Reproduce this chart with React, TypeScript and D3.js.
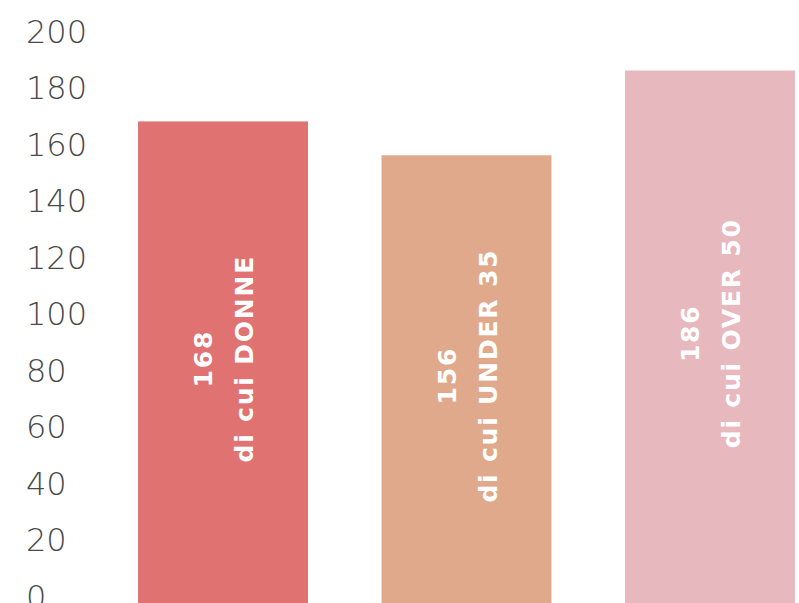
import React from "react";
import * as d3 from "d3";

const categories = ["DONNE", "UNDER 35", "OVER 50"];
const values = [168, 156, 186];
const colors = ["#E07272", "#E0A98B", "#E8B8BF"];
const tickValues = [0, 20, 40, 60, 80, 100, 120, 140, 160, 180, 200];

const W = 799;
const H = 603;

export default function App() {
  const x = d3.scaleBand<string>().domain(categories).range([65, 868]).paddingInner(0.302).paddingOuter(0.3);
  const y = d3.scaleLinear().domain([0, 200]).range([596, 31]);
  const bw = x.bandwidth();

  return (
    <svg width={W} height={H} style={{ position: "absolute", left: 0, top: 0, background: "#fff" }}>
      <g>
        {tickValues.map((t) => (
          <text
            key={t}
            x={26}
            y={y(t)}
            dy="0.36em"
            fontFamily="'DejaVu Sans', sans-serif"
            fontWeight={200}
            fontSize={32}
            fill="#4a4a4a"
          >
            {t}
          </text>
        ))}
      </g>
      {categories.map((c, i) => {
        const x0 = x(c) as number;
        const top = y(values[i]);
        const cx = x0 + bw / 2;
        const cy = (top + y(0)) / 2;
        return (
          <g key={c}>
            <rect x={x0} y={top} width={bw} height={H - top} fill={colors[i]} />
            <g transform={`translate(${cx},${cy}) rotate(-90)`}>
              <text
                textAnchor="middle"
                fontFamily="'DejaVu Sans', sans-serif"
                fontWeight={700}
                fontSize={25}
                letterSpacing={1.8}
                fill="#fff"
              >
                <tspan x={0} y={-20} dy="0.36em">{values[i]}</tspan>
                <tspan x={0} y={21} dy="0.36em">{`di cui ${c}`}</tspan>
              </text>
            </g>
          </g>
        );
      })}
    </svg>
  );
}
